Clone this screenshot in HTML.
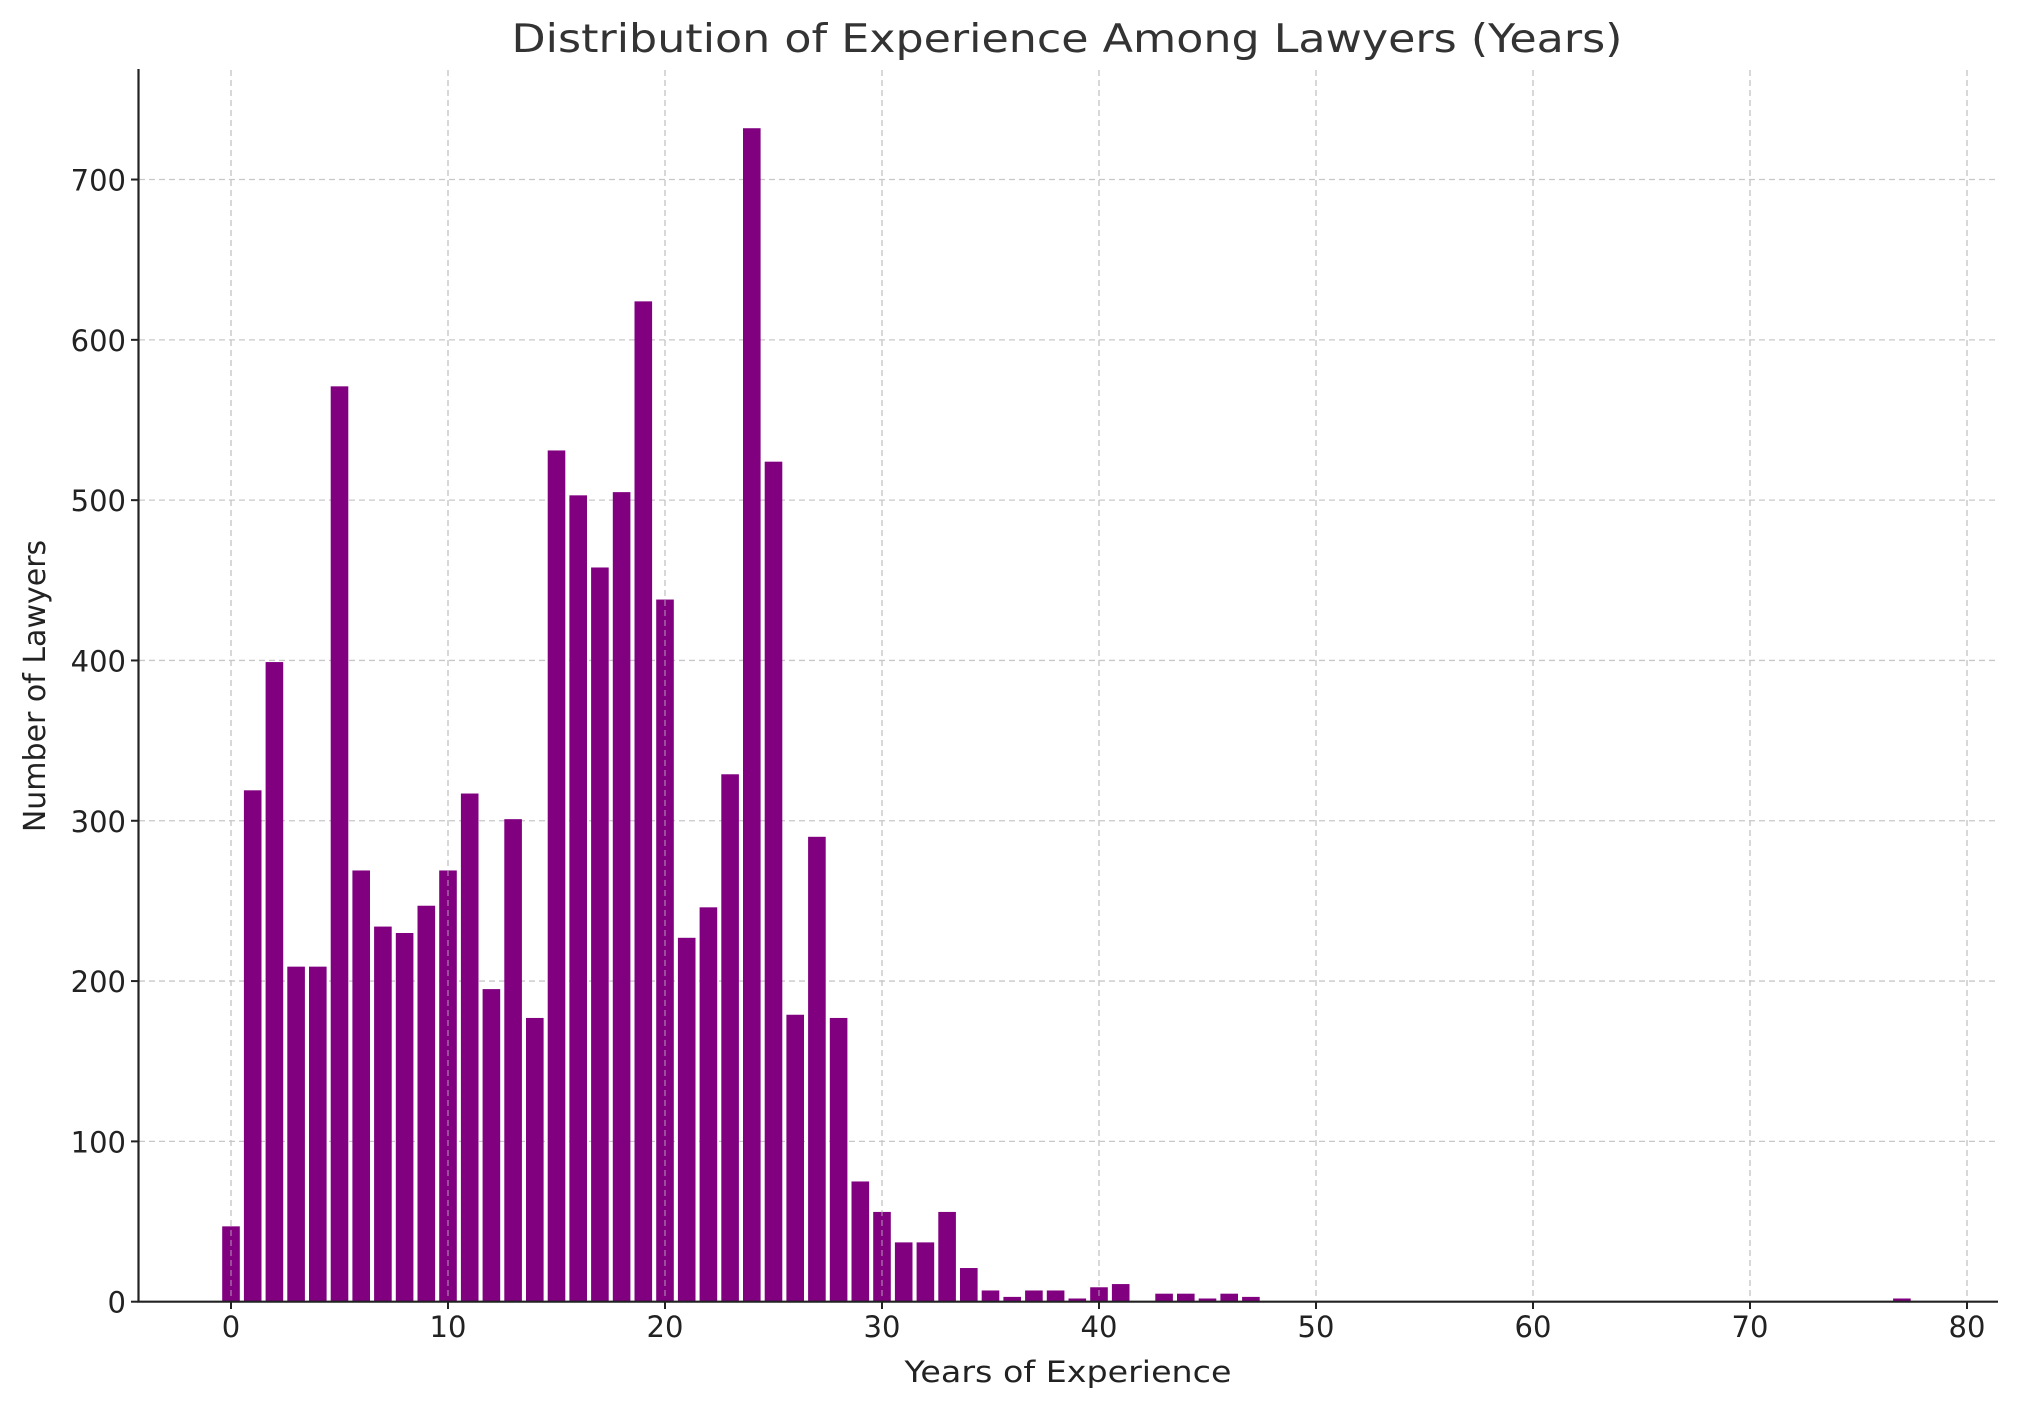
<!DOCTYPE html>
<html><head><meta charset="utf-8"><style>
html,body{margin:0;padding:0;background:#fff;}
svg{display:block;font-family:"DejaVu Sans","Liberation Sans",sans-serif;}
</style></head><body>
<svg id="s" width="2017" height="1409" viewBox="0 0 2017 1409" xmlns="http://www.w3.org/2000/svg">
<rect width="2017" height="1409" fill="#fff"/>
<g id="grid" stroke="#c8c8c8" stroke-width="1.3" stroke-dasharray="6,4"></g>
<g id="bars" fill="#800080"></g>
<g id="grid2" stroke="#c8c8c8" stroke-opacity="0.6" stroke-width="1.3" stroke-dasharray="6,4"></g>
<g id="axes" stroke="#222" stroke-width="2.2" fill="none">
<line x1="138.5" y1="69" x2="138.5" y2="1302.5"/>
<line x1="137.5" y1="1301.7" x2="1998" y2="1301.7"/>
</g>
<g id="ticks" stroke="#222" stroke-width="2"></g>
<g id="labels" fill="#222" font-size="29"></g>
<text x="1067" y="52" text-anchor="middle" font-size="39" fill="#333" textLength="1111" lengthAdjust="spacingAndGlyphs">Distribution of Experience Among Lawyers (Years)</text>
<text x="1068" y="1382" text-anchor="middle" font-size="29" fill="#222" textLength="327" lengthAdjust="spacingAndGlyphs">Years of Experience</text>
<text transform="translate(45,686) rotate(-90)" text-anchor="middle" font-size="30" fill="#222">Number of Lawyers</text>
</svg>
<script>
var NS="http://www.w3.org/2000/svg";
function el(p,t,a,txt){var e=document.createElementNS(NS,t);for(var k in a)e.setAttribute(k,a[k]);if(txt!==undefined)e.textContent=txt;document.getElementById(p).appendChild(e);}
var x0=231,px=21.7,y0=1301.7,py=1.6031;
var d={0:47,1:319,2:399,3:209,4:209,5:571,6:269,7:234,8:230,9:247,10:269,11:317,12:195,13:301,14:177,15:531,16:503,17:458,18:505,19:624,20:438,21:227,22:246,23:329,24:732,25:524,26:179,27:290,28:177,29:75,30:56,31:37,32:37,33:56,34:21,35:7,36:3,37:7,38:7,39:2,40:9,41:11,43:5,44:5,45:2,46:5,47:3,77:2};
for(var v=0;v<=700;v+=100){var y=y0-v*py;
 if(v>0)el("grid","line",{x1:139,x2:1997,y1:y,y2:y});
 el("ticks","line",{x1:131,x2:138,y1:y,y2:y});
 el("labels","text",{x:126,y:y+11,"text-anchor":"end"},v);}
for(var i=0;i<=80;i+=10){var x=x0+i*px;
 el("grid","line",{x1:x,x2:x,y1:70,y2:1300});
 el("grid2","line",{x1:x,x2:x,y1:70,y2:1300});
 el("ticks","line",{x1:x,x2:x,y1:1302,y2:1309});
 el("labels","text",{x:x,y:1337,"text-anchor":"middle"},i);}
for(var k in d){var h=d[k]*py;el("bars","rect",{x:x0+k*px-8.8,y:y0-h,width:17.6,height:h});}
</script>
</body></html>
